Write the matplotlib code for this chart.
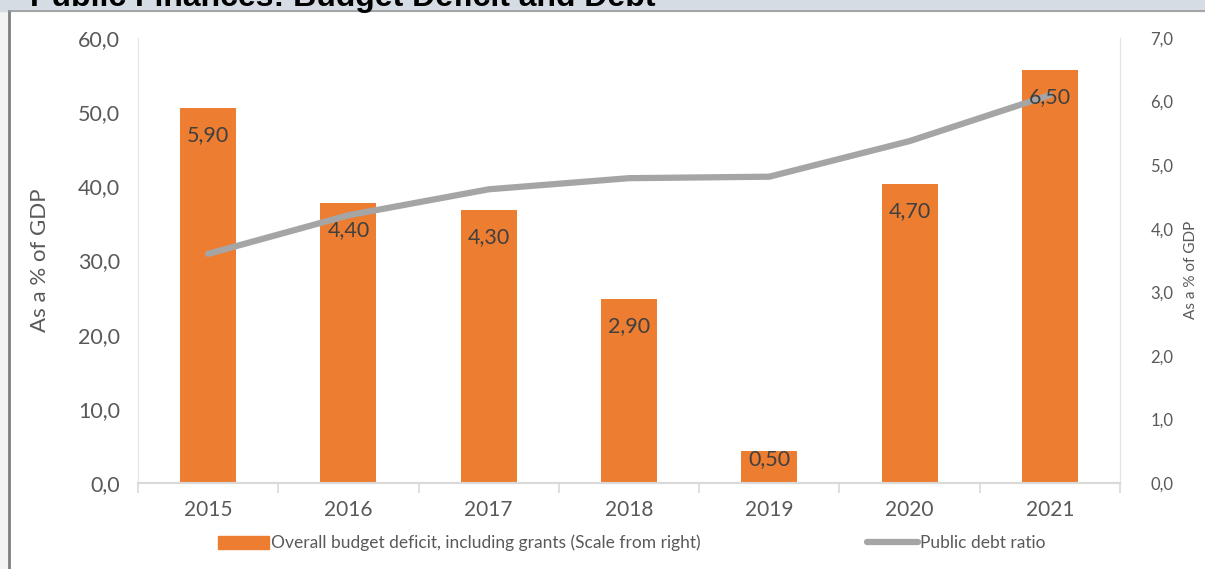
import matplotlib.pyplot as plt
from matplotlib.patches import Rectangle
from matplotlib.lines import Line2D
import numpy as np

years = ['2015', '2016', '2017', '2018', '2019', '2020', '2021']
deficit = [5.90, 4.40, 4.30, 2.90, 0.50, 4.70, 6.50]
debt_ratio = [30.9, 36.1, 39.6, 41.1, 41.3, 46.1, 52.3]
deficit_labels = ['5,90', '4,40', '4,30', '2,90', '0,50', '4,70', '6,50']

left_ticks = [0, 10, 20, 30, 40, 50, 60]
right_ticks = [0, 1, 2, 3, 4, 5, 6, 7]

orange = '#ED7D31'
grey = '#A5A5A5'
txt = '#595959'

plt.rcParams['font.family'] = ['Lato', 'DejaVu Sans']

fig = plt.figure(figsize=(12.05, 5.69), dpi=100)
ax = fig.add_axes([138 / 1205, 1 - 483 / 569, (1120 - 138) / 1205, (483 - 38) / 569])
ax2 = ax.twinx()

x = np.arange(len(years))

# bars belong to the right-hand scale
ax2.set_axisbelow(True)
ax2.bar(x, deficit, width=0.4, color=orange, zorder=2)
ax2.set_ylim(0, 7)
ax2.set_yticks(right_ticks)
ax2.set_yticklabels([f'{v:.1f}'.replace('.', ',') for v in right_ticks])

# line on the left scale, drawn above the bars
ax.set_zorder(2)
ax.patch.set_visible(False)
ax.plot(x, debt_ratio, color=grey, lw=4.5, solid_capstyle='round', zorder=3)
ax.set_ylim(0, 60)
ax.set_yticks(left_ticks)
ax.set_yticklabels([f'{v:.1f}'.replace('.', ',') for v in left_ticks])

ax.set_xlim(-0.5, len(years) - 0.5)
ax.set_xticks(x)
ax.set_xticklabels(years)
ax.set_xticks(np.arange(-0.5, len(years)), minor=True)

# labels sit inside the bar top; short bars push them up
for xi, v, lab in zip(x, deficit, deficit_labels):
    h = ax2.transData.transform((0, v))[1] - ax2.transData.transform((0, 0))[1]
    off = min(27, 0.25 * h)
    ax.annotate(lab, xy=(xi, v), xycoords=ax2.transData, xytext=(0, -off),
                textcoords='offset pixels', ha='center', va='center',
                fontsize=15.5, color='#404040', zorder=4)

ax.tick_params(axis='x', which='major', length=0, labelsize=15, labelcolor=txt, pad=12)
ax.tick_params(axis='x', which='minor', length=7, color='#D9D9D9', width=1.2)
ax.tick_params(axis='y', length=0, labelsize=15.5, labelcolor=txt, pad=13)
ax2.tick_params(axis='y', length=0, labelsize=12, labelcolor=txt, pad=22)
ax2.grid(axis='x', which='both', color='#EFEFEF', lw=1, zorder=0)

for a in (ax, ax2):
    a.spines['top'].set_visible(False)
    a.spines['left'].set_color('#E6E6E6')
    a.spines['right'].set_color('#E6E6E6')
    a.spines['bottom'].set_color('#D9D9D9')
    a.spines['bottom'].set_linewidth(1.5)

ax.set_ylabel('As a % of GDP', fontsize=16, color=txt)
ax.yaxis.set_label_coords(-0.09, 0.5)
ax2.set_ylabel('As a % of GDP', fontsize=11, color=txt)
ax2.yaxis.set_label_coords(1.065, 0.48)

handles = [Rectangle((0, 0), 1, 1, color=orange),
           Line2D([0], [0], color=grey, lw=4.5, solid_capstyle='round')]
fig.legend(handles, ['Overall budget deficit, including grants (Scale from right)',
                     'Public debt ratio'],
           loc='center', bbox_to_anchor=(632 / 1205, 1 - 543 / 569), ncol=2,
           frameon=False, fontsize=12.5, labelcolor=txt, handlelength=2.9,
           handleheight=0.8, handletextpad=0.15, columnspacing=9.6)

# frame and clipped title strip
fig.patches.append(Rectangle((0, 0), 8 / 1205, 1, transform=fig.transFigure,
                             color='#F3F3F3', zorder=0))
fig.patches.append(Rectangle((0, 1 - 11 / 569), 1, 11 / 569, transform=fig.transFigure,
                             color='#D6DCE4', zorder=0))
fig.add_artist(Line2D([9 / 1205, 9 / 1205], [0, 1 - 11 / 569], transform=fig.transFigure,
                      color='#7F7F7F', lw=2))
fig.add_artist(Line2D([9 / 1205, 1], [1 - 11 / 569, 1 - 11 / 569], transform=fig.transFigure,
                      color='#9A9A9A', lw=1.2))
fig.text(30 / 1205, 1 - 6 / 569, 'Public Finances: Budget Deficit and Debt',
         fontsize=23, fontweight='bold', family='Liberation Sans', color='black',
         va='baseline', ha='left')

fig.savefig('out.png', dpi=100)
